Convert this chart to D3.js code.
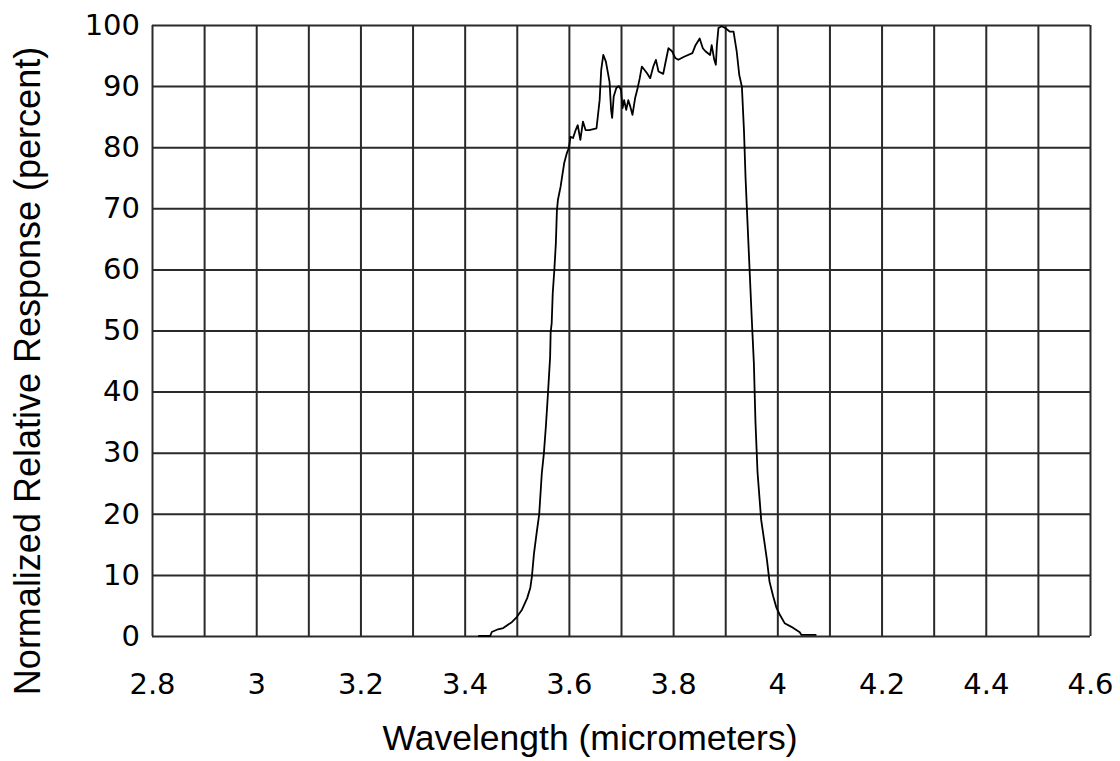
<!DOCTYPE html>
<html>
<head>
<meta charset="utf-8">
<script src="https://cdn.jsdelivr.net/npm/d3@7"></script>
<style>
  html, body { margin: 0; padding: 0; background: #fff; }
  svg { display: block; }
</style>
</head>
<body>
<svg id="chart" width="1120" height="761"></svg>
<script>
// ---- data ----
const wavelength = [3.426,3.449,3.452,3.464,3.474,3.491,3.500,3.510,3.520,3.526,3.529,3.533,3.538,3.543,3.548,3.552,3.556,3.560,3.564,3.565,3.567,3.569,3.572,3.575,3.577,3.579,3.584,3.587,3.591,3.596,3.600,3.603,3.608,3.613,3.617,3.622,3.627,3.632,3.639,3.653,3.659,3.662,3.666,3.671,3.678,3.681,3.683,3.686,3.691,3.696,3.700,3.703,3.706,3.710,3.714,3.718,3.722,3.727,3.732,3.736,3.740,3.750,3.756,3.762,3.767,3.772,3.781,3.785,3.791,3.798,3.804,3.810,3.821,3.837,3.843,3.851,3.857,3.862,3.871,3.874,3.879,3.882,3.884,3.887,3.893,3.900,3.909,3.916,3.922,3.927,3.932,3.936,3.939,3.943,3.947,3.951,3.955,3.958,3.962,3.969,3.975,3.980,3.985,3.992,3.998,4.004,4.014,4.027,4.043,4.046,4.075];
const response   = [0,0,0.65,1.1,1.3,2.3,3.1,4.3,6.2,7.9,9.7,13.5,16.8,19.9,26.6,29.9,34.5,39.9,45.7,49.7,51.2,56.1,59.8,64.3,69.6,71.4,73.5,75.2,77.4,79.0,79.9,81.7,81.5,82.8,83.6,81.2,84.2,82.8,82.8,83.1,87.7,92.6,95.1,94.0,90.7,86.1,84.8,88.3,89.7,90.0,89.4,86.4,87.7,86.1,87.7,86.6,85.3,88.0,89.7,91.3,93.2,92.1,91.3,93.2,94.3,92.4,92.0,93.7,96.2,95.7,94.6,94.3,94.8,95.4,96.7,97.8,96.2,95.7,95.1,96.7,94.3,93.5,96.7,99.5,99.8,99.5,98.9,98.9,95.7,91.8,89.9,82.7,75.0,67.2,59.5,51.8,44.6,35.1,26.8,19.0,15.5,12.5,8.9,6.5,4.7,3.6,2.1,1.5,0.6,0.2,0.2];
const xTickValues = [2.8,3.0,3.2,3.4,3.6,3.8,4.0,4.2,4.4,4.6];
const xTickLabels = ["2.8","3","3.2","3.4","3.6","3.8","4","4.2","4.4","4.6"];
const xGridValues = [2.8,2.9,3.0,3.1,3.2,3.3,3.4,3.5,3.6,3.7,3.8,3.9,4.0,4.1,4.2,4.3,4.4,4.5,4.6];
const yTickValues = [0,10,20,30,40,50,60,70,80,90,100];
const xTitle = "Wavelength (micrometers)";
const yTitle = "Normalized Relative Response (percent)";

// ---- layout ----
const svg = d3.select("#chart");
const L = 152, R = 1090, T = 25, B = 636;
const x = d3.scaleLinear().domain([2.8, 4.6]).range([L, R]);
const y = d3.scaleLinear().domain([0, 100]).range([B, T]);
const gridColor = "#2a2a2a";
const titleFont = "'Liberation Sans', Arial, sans-serif";
const tickFont = "'DejaVu Sans', sans-serif";

// vertical grid
svg.append("g")
  .attr("transform", `translate(0,${B})`)
  .call(d3.axisBottom(x).tickValues(xGridValues).tickSize(-(B - T)).tickFormat(""))
  .call(g => g.select(".domain").remove())
  .call(g => g.selectAll("line").attr("stroke", gridColor).attr("stroke-width", 2));

// horizontal grid
svg.append("g")
  .attr("transform", `translate(${L},0)`)
  .call(d3.axisLeft(y).tickValues(yTickValues).tickSize(-(R - L)).tickFormat(""))
  .call(g => g.select(".domain").remove())
  .call(g => g.selectAll("line").attr("stroke", gridColor).attr("stroke-width", 2));

// x tick labels
svg.append("g")
  .attr("transform", `translate(0,${B})`)
  .call(d3.axisBottom(x).tickValues(xTickValues).tickSize(0).tickPadding(37)
        .tickFormat((d, i) => xTickLabels[i]))
  .call(g => g.select(".domain").remove())
  .call(g => g.selectAll("text").attr("fill", "#000")
        .style("font-family", tickFont).style("font-size", "29px"));

// y tick labels
svg.append("g")
  .attr("transform", `translate(${L},0)`)
  .call(d3.axisLeft(y).tickValues(yTickValues).tickSize(0).tickPadding(12)
        .tickFormat(d3.format("d")))
  .call(g => g.select(".domain").remove())
  .call(g => g.selectAll("text").attr("fill", "#000")
        .style("font-family", tickFont).style("font-size", "29px"));

// curve
const pts = wavelength.map((w, i) => [w, response[i]]);
svg.append("path")
  .datum(pts)
  .attr("fill", "none")
  .attr("stroke", "#000")
  .attr("stroke-width", 1.8)
  .attr("stroke-linejoin", "round")
  .attr("d", d3.line().x(d => x(d[0])).y(d => y(d[1])));

// axis titles
svg.append("text")
  .attr("x", 590).attr("y", 750)
  .attr("text-anchor", "middle")
  .style("font-family", titleFont).style("font-size", "35.5px")
  .text(xTitle);

svg.append("text")
  .attr("transform", `translate(40,371) rotate(-90)`)
  .attr("text-anchor", "middle")
  .style("font-family", titleFont).style("font-size", "36px")
  .text(yTitle);
</script>
</body>
</html>
